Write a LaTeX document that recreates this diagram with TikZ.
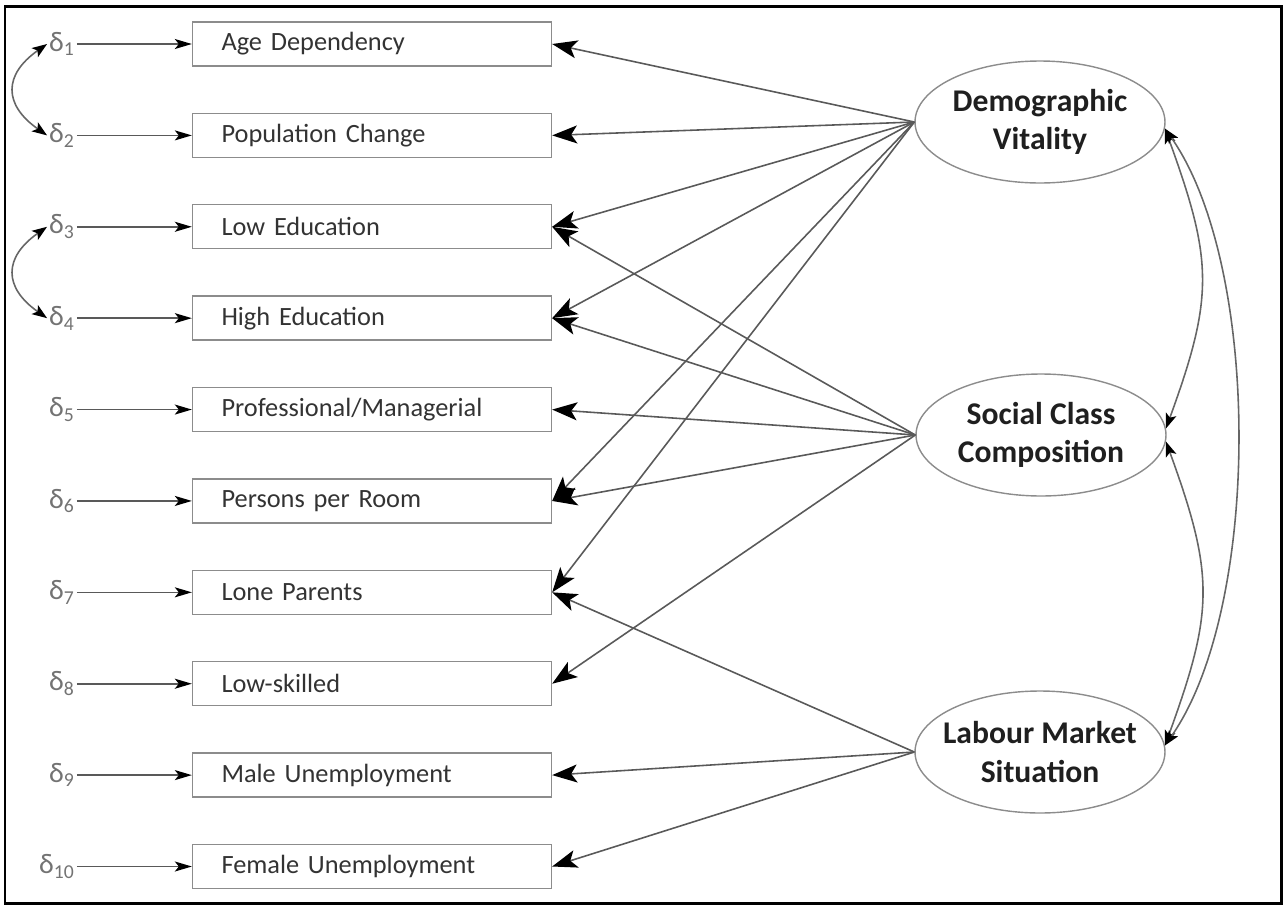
\documentclass[tikz,border=0pt]{standalone}
\usepackage{fontspec}
\setmainfont{Carlito}
\usepackage{tikz}
\usetikzlibrary{arrows.meta}
\usetikzlibrary{positioning,shapes.geometric}

\begin{document}
\begin{tikzpicture}[
    x=0.02cm, y=-0.02cm,
    node distance=0.92cm,
    obsbox/.style={rectangle, draw=black!45, thick, minimum height=0.88cm, text width=6.02cm, inner xsep=0.58cm, align=left, font=\fontsize{15}{18}\selectfont, text=black!80},
    latent/.style={ellipse, draw=black!45, thick, minimum width=5cm, minimum height=2.44cm, inner xsep=-0.2cm, inner ysep=0pt, align=center, font=\fontsize{18}{22}\selectfont\bfseries, text=black!88},
    errlabel/.style={font=\fontsize{16}{18}\selectfont, text=black!55, inner sep=1pt},
    loading/.style={draw=black!65, line width=0.9pt, -{Stealth[length=0.5cm, width=0.36cm, inset=0.12cm, color=black]}},
    errarrow/.style={draw=black!65, line width=0.9pt, -{Stealth[length=0.34cm, width=0.2cm, inset=0.08cm, color=black]}},
    covar/.style={draw=black!60, line width=0.9pt, {Stealth[length=0.3cm, width=0.22cm, inset=0.07cm, color=black]}-{Stealth[length=0.3cm, width=0.22cm, inset=0.07cm, color=black]}}
  ]
    \useasboundingbox (0,0) rectangle (1285,907);
    \draw[line width=0.06cm] (5,6) rectangle (1281,903);

    % observed indicators
    \node (agedep) [obsbox] at (372,44) {Age Dependency};
    \node (popchange) [obsbox, below=of agedep] {Population Change};
    \node (lowedu) [obsbox, below=of popchange] {Low Education};
    \node (highedu) [obsbox, below=of lowedu] {High Education};
    \node (profman) [obsbox, below=of highedu] {Professional/Managerial};
    \node (persroom) [obsbox, below=of profman] {Persons per Room};
    \node (loneparents) [obsbox, below=of persroom] {Lone Parents};
    \node (lowskilled) [obsbox, below=of loneparents] {Low-skilled};
    \node (maleunemp) [obsbox, below=of lowskilled] {Male Unemployment};
    \node (femunemp) [obsbox, below=of maleunemp] {Female Unemployment};

    % error terms
    \node (d1) [errlabel, left=2.3cm of agedep] {δ\textsubscript{1}};
    \node (d2) [errlabel, left=2.3cm of popchange] {δ\textsubscript{2}};
    \node (d3) [errlabel, left=2.3cm of lowedu] {δ\textsubscript{3}};
    \node (d4) [errlabel, left=2.3cm of highedu] {δ\textsubscript{4}};
    \node (d5) [errlabel, left=2.3cm of profman] {δ\textsubscript{5}};
    \node (d6) [errlabel, left=2.3cm of persroom] {δ\textsubscript{6}};
    \node (d7) [errlabel, left=2.3cm of loneparents] {δ\textsubscript{7}};
    \node (d8) [errlabel, left=2.3cm of lowskilled] {δ\textsubscript{8}};
    \node (d9) [errlabel, left=2.3cm of maleunemp] {δ\textsubscript{9}};
    \node (d10) [errlabel, left=2.3cm of femunemp] {δ\textsubscript{10}};

    % latent factors
    \node (demo) [latent] at (1040,122) {Demographic\\Vitality};
    \node (social) [latent] at (1041,435) {Social Class\\Composition};
    \node (labour) [latent] at (1040,752) {Labour Market\\Situation};

    \draw[errarrow] (d1.east) -- (agedep.west);
    \draw[errarrow] (d2.east) -- (popchange.west);
    \draw[errarrow] (d3.east) -- (lowedu.west);
    \draw[errarrow] (d4.east) -- (highedu.west);
    \draw[errarrow] (d5.east) -- (profman.west);
    \draw[errarrow] (d6.east) -- (persroom.west);
    \draw[errarrow] (d7.east) -- (loneparents.west);
    \draw[errarrow] (d8.east) -- (lowskilled.west);
    \draw[errarrow] (d9.east) -- (maleunemp.west);
    \draw[errarrow] (d10.east) -- (femunemp.west);

    \draw[covar] (d1.west) to[out=215, in=145, looseness=1.5] (d2.west);
    \draw[covar] (d3.west) to[out=215, in=145, looseness=1.5] (d4.west);

    \draw[loading] (demo.west) -- (agedep.east);
    \draw[loading] (demo.west) -- (popchange.east);
    \draw[loading] (demo.west) -- (lowedu.east);
    \draw[loading] (demo.west) -- (highedu.east);
    \draw[loading] (demo.west) -- (persroom.east);
    \draw[loading] (demo.west) -- (loneparents.east);

    \draw[loading] (social.west) -- (lowedu.east);
    \draw[loading] (social.west) -- (highedu.east);
    \draw[loading] (social.west) -- (profman.east);
    \draw[loading] (social.west) -- (persroom.east);
    \draw[loading] (social.west) -- (lowskilled.east);

    \draw[loading] (labour.west) -- (loneparents.east);
    \draw[loading] (labour.west) -- (maleunemp.east);
    \draw[loading] (labour.west) -- (femunemp.east);

    \draw[covar] (demo.-3) to[out=-70, in=70, looseness=1.2] (social.3);
    \draw[covar] (social.-3) to[out=-70, in=70, looseness=1.2] (labour.3);
    \draw[covar] (demo.-3) to[out=-55, in=55, looseness=0.7] (labour.3);
\end{tikzpicture}
\end{document}
